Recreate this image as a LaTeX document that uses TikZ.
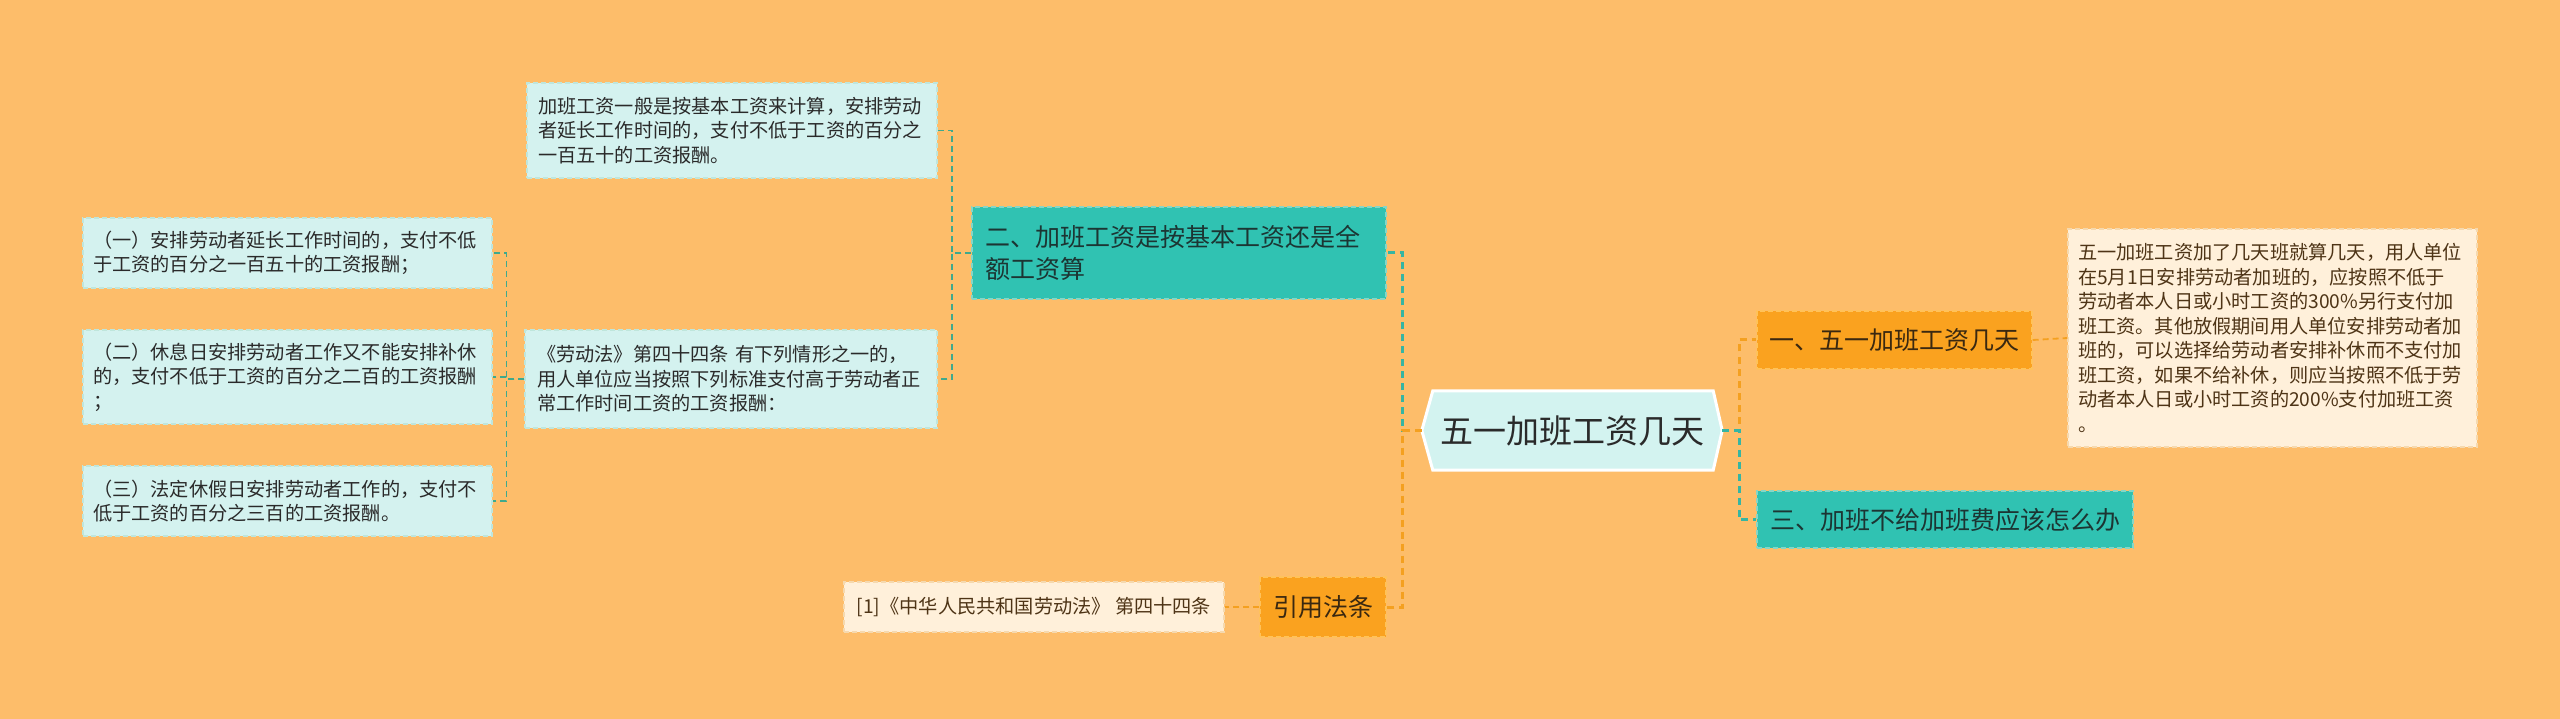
\documentclass[tikz,border=0pt]{standalone}
\usepackage{fontspec}
\newfontfamily\cjk{Noto Sans CJK SC}
\usetikzlibrary{backgrounds,calc}
\definecolor{bgc}{HTML}{FDBD6A}
\definecolor{tealfill}{HTML}{30C2B2}
\definecolor{tealborder}{HTML}{86D6C6}
\definecolor{orangefill}{HTML}{FAA21F}
\definecolor{orangeborder}{HTML}{FFC25A}
\definecolor{cyanfill}{HTML}{D4F2EF}
\definecolor{cyanborder}{HTML}{BFE6DC}
\definecolor{creamfill}{HTML}{FFF0DA}
\definecolor{creamborder}{HTML}{F6D9AE}
\definecolor{rootfill}{HTML}{D3F3F0}
\definecolor{tealline}{HTML}{36B5A2}
\definecolor{tealline2}{HTML}{3FA98C}
\definecolor{orangeline}{HTML}{F4A020}
\definecolor{txtdark}{HTML}{2A2A2A}
\definecolor{txtbrown}{HTML}{4E3416}
\definecolor{txtteal}{HTML}{1C3533}
\definecolor{txtorange}{HTML}{3A2810}
\tikzset{
  smallbox/.style={inner ysep=0pt, align=left, font=\cjk\fontsize{19.2}{24.5}\selectfont,
    line width=1.2pt, dash pattern=on 5pt off 3pt},
  cyanbox/.style={smallbox, fill=cyanfill, draw=cyanborder, text=txtdark},
  creambox/.style={smallbox, fill=creamfill, draw=creamborder, text=txtbrown},
  bigbox/.style={inner ysep=0pt, align=left, font=\cjk\fontsize{25}{32}\selectfont,
    line width=1.4pt, dash pattern=on 5pt off 3pt},
  tealbox/.style={bigbox, fill=tealfill, draw=tealborder, text=txtteal},
  orangebox/.style={bigbox, fill=orangefill, draw=orangeborder, text=txtorange},
  mainteal/.style={draw=tealline, line width=3pt, dash pattern=on 7pt off 5pt},
  mainorange/.style={draw=orangeline, line width=3pt, dash pattern=on 7pt off 5pt},
  subteal/.style={draw=tealline2, line width=1.8pt, dash pattern=on 6pt off 4pt},
  suborange/.style={draw=orangeline, line width=1.8pt, dash pattern=on 6pt off 4pt},
}
\begin{document}
\begin{tikzpicture}[x=1pt,y=-1pt]
\useasboundingbox (0,0) rectangle (2560,719);
\begin{scope}[on background layer]
  \fill[bgc] (0,0) rectangle (2560,719);
\end{scope}

% root
\node[inner sep=0pt, minimum width=300pt, minimum height=79pt,
      font=\cjk\fontsize{33}{40}\selectfont, text=txtdark] (root) at (1572,430.5) {五一加班工资几天};
\begin{scope}[on background layer]
  \filldraw[fill=rootfill, draw=white, line width=3pt, line join=miter]
    ($(root.north west)+(11,0)$) -- ($(root.north east)+(-9,0)$) -- (root.east)
    -- ($(root.south east)+(-9,0)$) -- ($(root.south west)+(11,0)$) -- (root.west) -- cycle;
\end{scope}

% left level 1
\node[tealbox, inner xsep=13pt, text width=388pt, minimum height=92pt] (n2) at (1179,253)
  {二、加班工资是按基本工资还是全\\额工资算};
\node[orangebox, inner xsep=13pt, minimum width=126pt, minimum height=60pt, align=center] (ref) at (1323,607)
  {引用法条};

% left level 2
\node[cyanbox, inner xsep=11pt, text width=388pt, minimum height=95pt] (t1) at (732,130.5)
  {加班工资一般是按基本工资来计算，安排劳动\\者延长工作时间的，支付不低于工资的百分之\\一百五十的工资报酬。};
\node[cyanbox, inner xsep=12pt, text width=388pt, minimum height=98pt] (law) at (731,379)
  {《劳动法》第四十四条 有下列情形之一的，\\用人单位应当按照下列标准支付高于劳动者正\\常工作时间工资的工资报酬：};
\node[creambox, inner xsep=12pt, minimum width=380pt, minimum height=50pt, align=center] (reft) at (1034,607)
  {[1]《中华人民共和国劳动法》 第四十四条};

% left level 3
\node[cyanbox, inner xsep=10pt, text width=389pt, minimum height=70pt] (c1) at (287.5,253)
  {（一）安排劳动者延长工作时间的，支付不低\\于工资的百分之一百五十的工资报酬；};
\node[cyanbox, inner xsep=10pt, text width=389pt, minimum height=94pt] (c2) at (287.5,377)
  {（二）休息日安排劳动者工作又不能安排补休\\的，支付不低于工资的百分之二百的工资报酬\\；};
\node[cyanbox, inner xsep=10pt, text width=389pt, minimum height=70pt] (c3) at (287.5,501)
  {（三）法定休假日安排劳动者工作的，支付不\\低于工资的百分之三百的工资报酬。};

% right side
\node[orangebox, inner xsep=12pt, minimum width=275pt, minimum height=58pt, align=center] (r1) at (1894.5,340)
  {一、五一加班工资几天};
\node[tealbox, inner xsep=12pt, minimum width=376pt, minimum height=57pt, align=center] (r3) at (1945,519.5)
  {三、加班不给加班费应该怎么办};
\node[creambox, inner xsep=10pt, text width=389pt, minimum height=218pt] (r1t) at (2272.5,338)
  {五一加班工资加了几天班就算几天，用人单位\\在5月1日安排劳动者加班的，应按照不低于\\劳动者本人日或小时工资的300\%另行支付加\\班工资。其他放假期间用人单位安排劳动者加\\班的，可以选择给劳动者安排补休而不支付加\\班工资，如果不给补休，则应当按照不低于劳\\动者本人日或小时工资的200\%支付加班工资\\。};

% connectors (root left)
\draw[mainteal] (root.west) -- ++(-19,0) |- (n2.east);
\draw[mainorange] (root.west) -- ++(-19,0) |- (ref.east);
% connectors (root right)
\draw[mainorange] (root.east) -- ++(17,0) |- (r1.west);
\draw[mainteal] (root.east) -- ++(17,0) |- (r3.west);
% sub connectors
\draw[suborange] (r1.east) -- (r1t.west);
\draw[suborange] (ref.west) -- (reft.east);
\draw[subteal] (n2.west) -- ++(-19,0) |- (t1.east);
\draw[subteal] (n2.west) -- ++(-19,0) |- (law.east);
\draw[subteal] (law.west) -- ++(-18,0) |- (c1.east);
\draw[subteal] (law.west) -- ++(-18,0) |- (c2.east);
\draw[subteal] (law.west) -- ++(-18,0) |- (c3.east);
\end{tikzpicture}
\end{document}
